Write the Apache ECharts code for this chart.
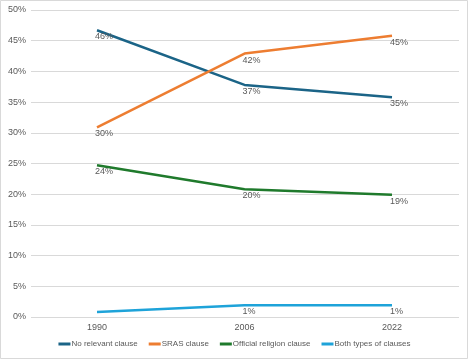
<!DOCTYPE html>
<html><head><meta charset="utf-8">
<script src="https://cdn.jsdelivr.net/npm/echarts@6/dist/echarts.min.js"></script>
<style>html,body{margin:0;padding:0;background:#fff}#c{width:469px;height:360px}</style>
</head><body><div id="c"></div>
<script>
const years = ['1990', '2006', '2022'];
const noRelevant = [46.7, 37.8, 35.8];
const sras = [30.9, 42.9, 45.8];
const officialReligion = [24.7, 20.8, 19.9];
const bothTypes = [0.8, 1.9, 1.9];
const seriesNames = ['No relevant clause', 'SRAS clause', 'Official religion clause', 'Both types of clauses'];
const colors = ['#1b6487', '#ed7d31', '#1f7a2c', '#1ea3d9'];
const yTicks = [0, 50, 5];

const font = 'Liberation Sans, Arial, sans-serif';
const txt = '#595959';
function mk(name, data, color) {
  return {
    name, type: 'line', data, xAxisIndex: 1, yAxisIndex: 1,
    smooth: false, symbol: 'circle', symbolSize: 0.1, showSymbol: true,
    itemStyle: { color }, lineStyle: { color, width: 2.5, join: 'round' },
    label: {
      show: true, position: [-2, 2], align: 'left', verticalAlign: 'top',
      color: txt, fontSize: 9, fontFamily: font,
      formatter: p => { const v = Math.floor(p.value); return v > 0 ? v + '%' : ''; }
    }
  };
}
const chart = echarts.init(document.getElementById('c'), null, { renderer: 'canvas' });
chart.setOption({
  animation: false,
  backgroundColor: '#fff',
  graphic: [{ type: 'rect', shape: { x: 0.5, y: 0.5, width: 467, height: 358 }, style: { fill: 'none', stroke: '#d9d9d9', lineWidth: 1 }, silent: true }],
  grid: [
    { left: 31, right: 10, top: 10, bottom: 43 },
    { left: 23.25, right: 3.25, top: 10, bottom: 43 }
  ],
  xAxis: [
    { type: 'category', gridIndex: 0, data: years, show: false },
    { type: 'category', gridIndex: 1, data: years, boundaryGap: true,
      axisLine: { show: false }, axisTick: { show: false },
      axisLabel: { color: txt, fontSize: 9, fontFamily: font, margin: 6 } }
  ],
  yAxis: [
    { type: 'value', gridIndex: 0, min: yTicks[0], max: yTicks[1], interval: yTicks[2],
      axisLine: { show: false }, axisTick: { show: false },
      axisLabel: { color: txt, fontSize: 9, fontFamily: font, margin: 5, formatter: v => v + '%' },
      splitLine: { lineStyle: { color: '#d9d9d9', width: 1 } } },
    { type: 'value', gridIndex: 1, min: yTicks[0], max: yTicks[1], show: false, splitLine: { show: false } }
  ],
  legend: {
    bottom: 7, left: 'center', icon: 'rect', itemWidth: 12, itemHeight: 3, itemGap: 11,
    textStyle: { color: txt, fontSize: 8, fontFamily: font, padding: [0, 0, 0, -4] },
    data: seriesNames
  },
  series: [
    mk(seriesNames[0], noRelevant, colors[0]),
    mk(seriesNames[1], sras, colors[1]),
    mk(seriesNames[2], officialReligion, colors[2]),
    mk(seriesNames[3], bothTypes, colors[3])
  ]
});
</script></body></html>
